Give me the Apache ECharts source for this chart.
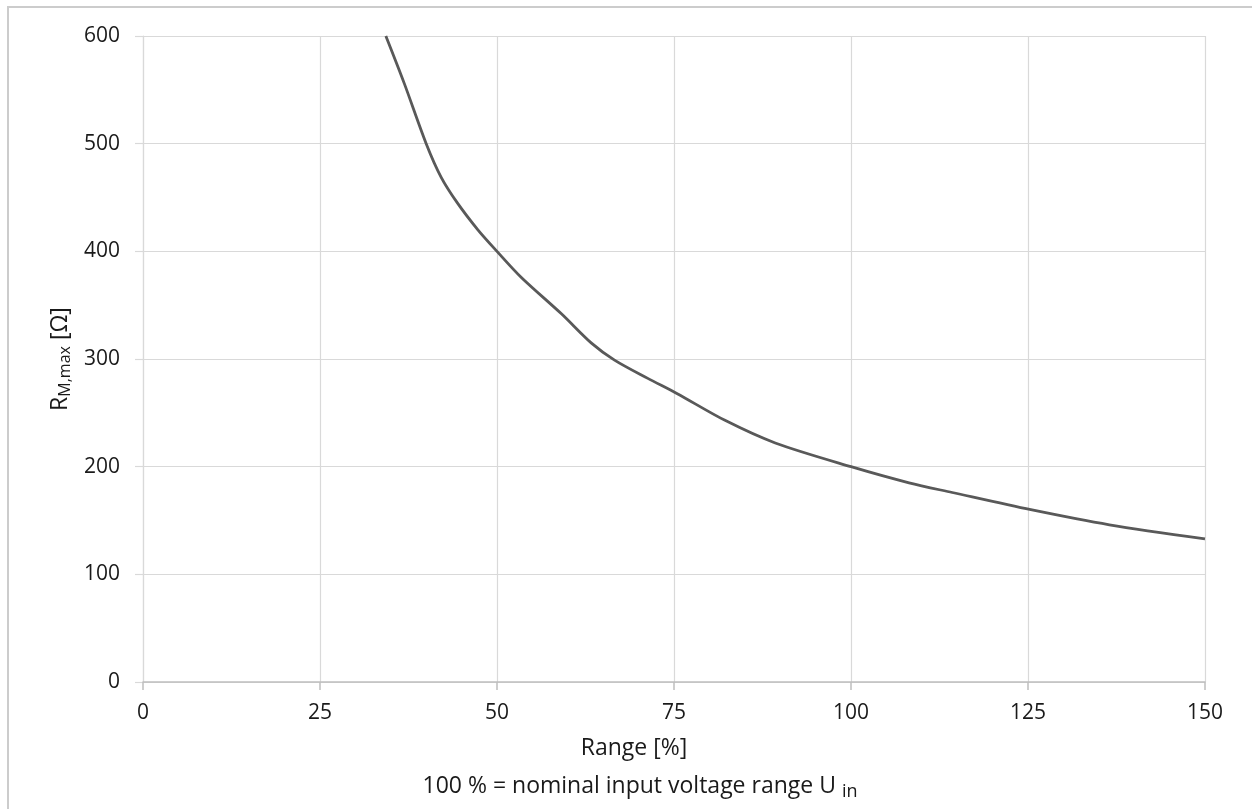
<!DOCTYPE html>
<html>
<head>
<meta charset="utf-8">
<script src="https://cdn.jsdelivr.net/npm/echarts@6/dist/echarts.min.js"></script>
<style>
  html, body { margin: 0; padding: 0; background: #fff; }
  #chart { width: 1252px; height: 809px; }
</style>
</head>
<body>
<div id="chart"></div>
<script>
// range in % of nominal input voltage
const rangePct = [34.3, 36.9, 40.0, 42.1, 44.4, 47.3, 50.0, 53.4, 59.1, 63.3, 66.6, 71.3, 75.4, 82.2, 89.3, 100.0, 108.2, 114.3, 125.4, 136.5, 150.0];
// max load resistance R_M,max [Ohm]
const rMax = [600, 556, 500, 469, 445, 420, 400, 376, 342, 315, 299, 282, 268, 243, 222, 200, 185, 176, 160, 146, 133];

const xTicks = { min: 0, max: 150, step: 25 };
const yTicks = { min: 0, max: 600, step: 100 };

const FONT = '"Open Sans", sans-serif';
const TXT = '#1a1a1a';

const chart = echarts.init(document.getElementById('chart'), null, { renderer: 'canvas' });

const points = rangePct.map((x, i) => [x, rMax[i]]);

const option = {
    backgroundColor: '#fff',
    animation: false,
    grid: {
        left: 143,
        right: 47,
        top: 36,
        bottom: 127
    },
    xAxis: {
        type: 'value',
        min: xTicks.min,
        max: xTicks.max,
        interval: xTicks.step,
        axisLine: { show: true, lineStyle: { color: '#bfbfbf', width: 1.5 } },
        axisTick: { show: true, length: 8, lineStyle: { color: '#bfbfbf', width: 1.5 } },
        splitLine: { show: true, lineStyle: { color: '#d9d9d9', width: 1.2 } },
        axisLabel: { margin: 21, fontFamily: FONT, fontSize: 21, color: TXT }
    },
    yAxis: {
        type: 'value',
        min: yTicks.min,
        max: yTicks.max,
        interval: yTicks.step,
        axisLine: { show: true, lineStyle: { color: '#d9d9d9', width: 1.2 } },
        axisTick: { show: true, length: 8, lineStyle: { color: '#d9d9d9', width: 1.2 } },
        splitLine: { show: true, lineStyle: { color: '#d9d9d9', width: 1.2 } },
        axisLabel: { margin: 23, fontFamily: FONT, fontSize: 21, color: TXT }
    },
    series: [{
        type: 'line',
        data: points,
        smooth: 0.3,
        showSymbol: false,
        lineStyle: { color: '#595959', width: 2.8 }
    }],
    graphic: [
        {
            // outer frame (continues past right and bottom edge)
            type: 'rect',
            silent: true,
            shape: { x: 8, y: 7, width: 1400, height: 1000 },
            style: { fill: 'none', stroke: '#cccccc', lineWidth: 2 }
        },
        {
            type: 'text',
            x: 60,
            y: 359,
            rotation: Math.PI / 2,
            style: {
                text: '{b|R}{s|M,max}{b| [Ω]}',
                align: 'center',
                verticalAlign: 'middle',
                rich: {
                    b: { fontFamily: FONT, fontSize: 23, fill: TXT },
                    s: { fontFamily: FONT, fontSize: 16, fill: TXT, padding: [11, 0, 0, 0] }
                }
            }
        },
        {
            type: 'text',
            x: 634,
            y: 748,
            style: {
                text: 'Range [%]',
                align: 'center',
                verticalAlign: 'middle',
                font: '23px ' + FONT,
                fill: TXT
            }
        },
        {
            type: 'text',
            x: 640,
            y: 786,
            style: {
                text: '{b|100 % = nominal input voltage range U }{s|in}',
                align: 'center',
                verticalAlign: 'middle',
                rich: {
                    b: { fontFamily: FONT, fontSize: 23, fill: TXT },
                    s: { fontFamily: FONT, fontSize: 18, fill: TXT, padding: [11, 0, 0, 0] }
                }
            }
        }
    ]
};

chart.setOption(option);
</script>
</body>
</html>
